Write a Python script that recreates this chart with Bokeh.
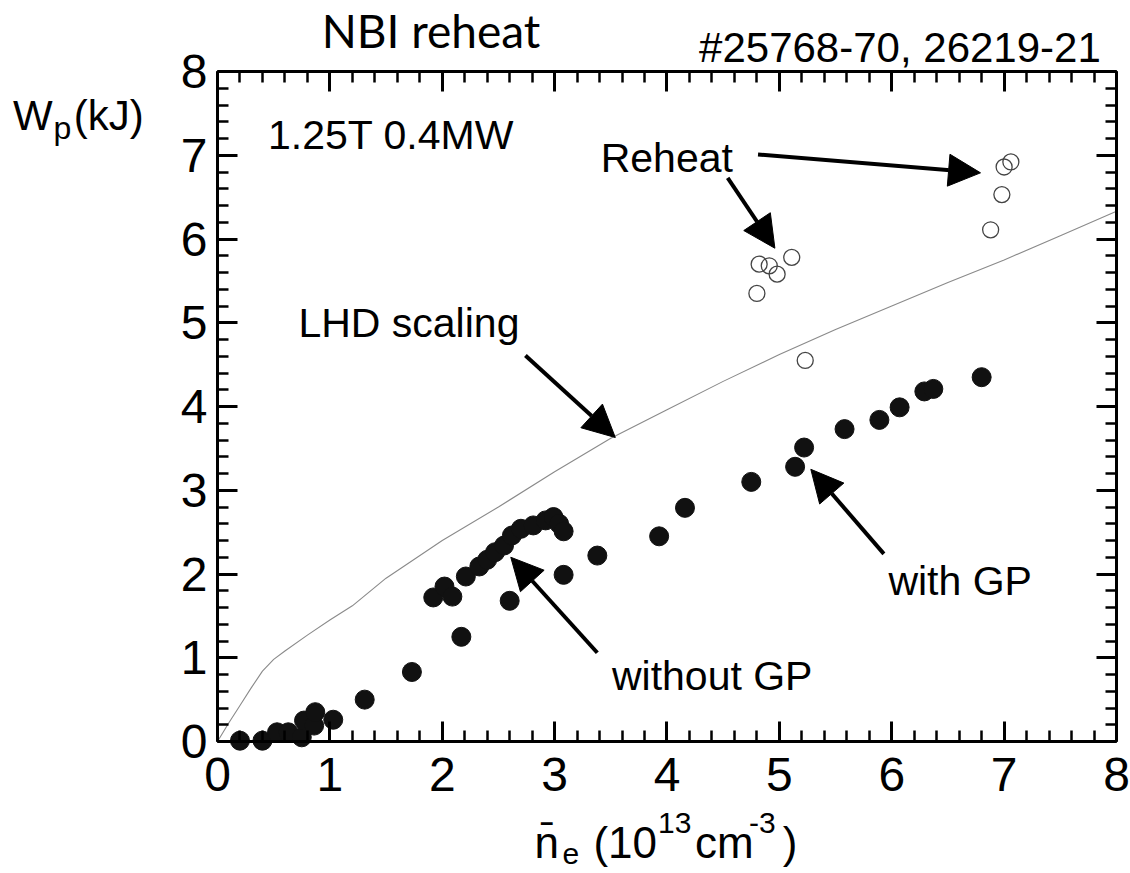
from bokeh.plotting import figure
from bokeh.models import (Label, Arrow, NormalHead, LinearAxis, SingleIntervalTicker, Range1d,
                          CustomLabelingPolicy)
from bokeh.embed import file_html
from bokeh.resources import INLINE

# ---- data ----
with_gp_x = [0.20, 0.40, 0.53, 0.63, 0.75, 0.77, 0.86, 0.87, 1.03, 1.31, 1.73, 2.17, 2.60,
             3.08, 3.38, 3.93, 4.16, 4.75, 5.14, 5.22, 5.58, 5.89, 6.07, 6.29, 6.37, 6.80]
with_gp_y = [0.01, 0.01, 0.11, 0.11, 0.05, 0.25, 0.19, 0.35, 0.26, 0.50, 0.83, 1.25, 1.68,
             1.99, 2.22, 2.45, 2.79, 3.10, 3.28, 3.51, 3.73, 3.84, 3.99, 4.18, 4.21, 4.35]

without_gp_x = [1.92, 2.02, 2.09, 2.21, 2.33, 2.40, 2.47, 2.55, 2.62, 2.70, 2.81, 2.92, 2.99, 3.04, 3.08]
without_gp_y = [1.72, 1.85, 1.73, 1.97, 2.09, 2.17, 2.26, 2.34, 2.46, 2.54, 2.58, 2.64, 2.68, 2.60, 2.51]

reheat_x = [4.80, 4.82, 4.91, 4.98, 5.11, 5.23, 6.88, 6.98, 7.00, 7.06]
reheat_y = [5.35, 5.70, 5.68, 5.58, 5.78, 4.55, 6.11, 6.53, 6.86, 6.92]

lhd_x = [0.0, 0.1, 0.2, 0.3, 0.4, 0.5, 0.6, 0.8, 1.0, 1.2, 1.5, 2.0, 2.5, 3.0, 3.5,
         4.0, 4.5, 5.0, 5.5, 6.0, 6.5, 7.0, 7.5, 8.0]
lhd_y = [0.0, 0.22, 0.43, 0.64, 0.84, 0.98, 1.08, 1.27, 1.45, 1.62, 1.95, 2.40, 2.80, 3.22, 3.62,
         3.96, 4.30, 4.62, 4.92, 5.20, 5.48, 5.75, 6.04, 6.33]

FONT = "Liberation Sans"
PX_PER_Y = 83.75  # vertical pixels per data unit (used only to nudge text baselines)

# frame of the figure is the whole canvas; axes are drawn at fixed data locations (0 and 8)
p = figure(width=1130, height=873,
           x_range=Range1d(-1.9310, 8.1246), y_range=Range1d(-1.5761, 8.8478),
           x_axis_location=None, y_axis_location=None,
           output_backend="svg", toolbar_location=None,
           min_border=0, min_border_left=0, min_border_right=0,
           min_border_top=0, min_border_bottom=0)
p.grid.visible = False
p.outline_line_color = None
p.background_fill_color = "white"
p.border_fill_color = "white"

left_ax = LinearAxis(fixed_location=0)
bottom_ax = LinearAxis(fixed_location=0)
right_ax = LinearAxis(fixed_location=8)
top_ax = LinearAxis(fixed_location=8)
p.add_layout(left_ax, "left")
p.add_layout(bottom_ax, "below")
p.add_layout(right_ax, "right")
p.add_layout(top_ax, "above")

for ax in [left_ax, bottom_ax, right_ax, top_ax]:
    ax.bounds = (0, 8)
    ax.ticker = SingleIntervalTicker(interval=1, num_minor_ticks=5)
    ax.axis_line_width = 3
    ax.axis_line_color = "black"
    ax.major_tick_in = 20
    ax.major_tick_out = 0
    ax.minor_tick_in = 11
    ax.minor_tick_out = 0
    ax.major_tick_line_width = 3
    ax.minor_tick_line_width = 2.5
    ax.major_tick_line_color = "black"
    ax.minor_tick_line_color = "black"
    ax.major_label_text_font = FONT
    ax.major_label_text_font_size = "48px"
    ax.major_label_text_color = "black"

for ax in [right_ax, top_ax]:
    ax.major_label_policy = CustomLabelingPolicy(
        code="for (let i = 0; i < indices.size; i++) { indices.unset(i) } return indices")

bottom_ax.major_label_standoff = 16
left_ax.major_label_standoff = 10

# LHD scaling line
p.line(lhd_x, lhd_y, line_color="#8a8a8a", line_width=1.1)

# markers
p.scatter(with_gp_x, with_gp_y, size=19, marker="circle", fill_color="#111111", line_color="#111111")
p.scatter(without_gp_x, without_gp_y, size=19, marker="circle", fill_color="#111111", line_color="#111111")
p.scatter(reheat_x, reheat_y, size=16, marker="circle", fill_color=None, line_color="#444444", line_width=1.3)

# arrows
arrows = [
    (4.54, 6.73, 4.96, 5.89),
    (4.81, 7.01, 6.79, 6.79),
    (2.74, 4.61, 3.54, 3.63),
    (3.38, 1.06, 2.61, 2.20),
    (5.93, 2.24, 5.28, 3.25),
]
for xs, ys, xe, ye in arrows:
    p.add_layout(Arrow(end=NormalHead(size=32, fill_color="black", line_color="black"),
                       x_start=xs, y_start=ys, x_end=xe, y_end=ye,
                       line_width=4, line_color="black"))

def lab(x, y, text, size=41, align="left", font=FONT):
    # baseline nudge so that the alphabetic baseline lands where it is in the reference
    y_adj = y + 0.36 * size / PX_PER_Y
    p.add_layout(Label(x=x, y=y_adj, text=text, text_font=font, text_font_size=f"{size}px",
                       text_align=align, text_baseline="alphabetic", text_color="black"))

lab(1.90, 8.29, "NBI reheat", size=46, align="center", font="Lato")
lab(7.86, 8.11, "#25768-70, 26219-21", size=42, align="right")
lab(0.45, 7.06, "1.25T 0.4MW", size=41)
lab(3.41, 6.79, "Reheat", size=41)
lab(0.72, 4.82, "LHD scaling", size=41)
lab(3.51, 0.61, "without GP", size=41)
lab(5.97, 1.74, "with GP", size=41)

# y-axis label W_p(kJ)
lab(-1.82, 7.30, "W", size=42)
lab(-1.46, 7.19, "p", size=32)
lab(-1.28, 7.30, "(kJ)", size=42)

# x-axis label  n̄_e (10^13 cm^-3)
lab(2.82, -1.40, "n\u0304", size=44)
lab(3.07, -1.47, "e", size=30)
lab(3.345, -1.40, "(10", size=44)
lab(3.92, -1.10, "13", size=30)
lab(4.25, -1.40, "cm", size=44)
lab(4.73, -1.10, "-3", size=30)
lab(5.03, -1.40, ")", size=44)

open("out.html", "w").write(file_html(p, INLINE))
